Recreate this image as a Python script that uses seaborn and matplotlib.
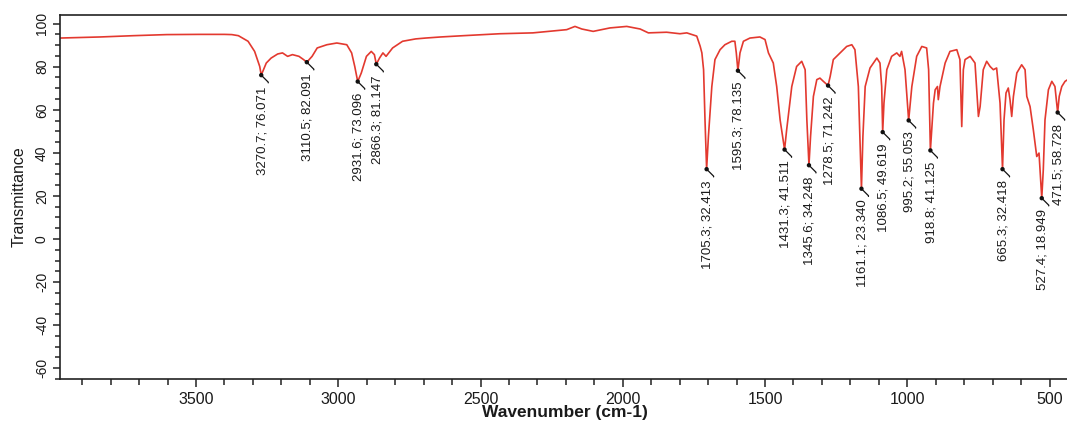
import matplotlib
matplotlib.use("Agg")
import matplotlib.pyplot as plt
from matplotlib.ticker import MultipleLocator
import seaborn as sns
import pandas as pd

# FT-IR spectrum: wavenumber (cm-1) and % transmittance
wavenumber = [
    3978, 3900, 3837, 3720, 3603, 3489, 3400, 3374, 3351, 3317, 3294, 3276,
    3270.7, 3253, 3236, 3213, 3196, 3178, 3161, 3138, 3122, 3110.5, 3092,
    3074, 3040, 3005, 2970, 2953, 2942, 2931.6, 2919, 2901, 2884, 2873,
    2866.3, 2855, 2843, 2832, 2809, 2774, 2728, 2693, 2640, 2560, 2432,
    2316, 2197, 2168, 2144, 2104, 2045, 1986, 1939, 1910, 1846, 1799, 1775,
    1740, 1728, 1722, 1716, 1711, 1705.3, 1699, 1687, 1676, 1658, 1641,
    1617, 1606, 1601, 1595.3, 1588, 1576, 1553, 1518, 1500, 1488, 1471,
    1459, 1447, 1431.3, 1424, 1406, 1389, 1371, 1359, 1353, 1345.6, 1340,
    1330, 1318, 1307, 1295, 1278.5, 1271, 1260, 1236, 1213, 1195, 1184,
    1172, 1161.1, 1156, 1148, 1131, 1107, 1096, 1090, 1086.5, 1082, 1072,
    1055, 1037, 1026, 1020, 1008, 995.2, 984, 967, 949, 932, 925, 918.8,
    908, 902, 894, 891, 885, 867, 850, 826, 815, 808.6, 803, 797, 779, 762,
    750, 744, 733, 721, 709, 697.5, 686, 674, 665.3, 660, 653, 645, 639,
    633, 627, 615, 598, 586, 580, 568.5, 557, 545, 537, 527.4, 522, 516,
    504, 492, 481, 471.5, 466, 457, 445.5, 436,
]
transmittance = [
    93.3, 93.6, 93.8, 94.4, 94.9, 95.0, 95.0, 94.9, 94.4, 91.8, 87.1, 80.1,
    76.071, 81.7, 84.0, 85.9, 86.4, 84.8, 85.6, 84.8, 83.3, 82.091, 84.8,
    88.7, 90.2, 91.0, 90.2, 86.4, 80.1, 73.096, 77.1, 84.8, 87.1, 85.6,
    81.147, 84.0, 86.4, 84.8, 88.7, 91.8, 92.9, 93.3, 93.8, 94.4, 95.3,
    95.7, 97.2, 98.7, 97.5, 96.4, 98.0, 98.7, 97.5, 95.7, 96.0, 95.3, 95.7,
    94.2, 89.5, 86.4, 78.6, 55.3, 32.413, 47.6, 70.8, 83.3, 87.9, 90.2,
    91.8, 91.8, 86.4, 78.135, 86.4, 91.8, 93.3, 93.8, 92.6, 86.4, 81.7,
    70.8, 55.3, 41.511, 50.7, 70.8, 80.1, 82.5, 78.6, 55.3, 34.248, 47.6,
    66.2, 74.0, 74.7, 73.2, 71.242, 75.5, 83.3, 86.4, 89.4, 90.2, 87.9,
    70.8, 23.340, 47.6, 70.8, 79.4, 84.0, 81.7, 70.8, 49.619, 63.1, 78.6,
    84.8, 86.4, 84.8, 87.1, 78.6, 55.053, 70.8, 84.8, 89.4, 88.7, 78.6, 41.125,
    63.1, 69.3, 70.8, 64.7, 70.8, 81.7, 87.1, 87.9, 83.3, 52.2, 78.6, 83.3,
    84.8, 81.7, 56.9, 61.5, 78.6, 82.5, 80.1, 78.6, 79.4, 63.1, 32.418, 55.3,
    67.8, 70.1, 64.7, 56.9, 66.2, 77.1, 80.9, 78.6, 66.2, 61.5, 50.7, 38.3,
    39.9, 18.949, 32.1, 55.3, 69.3, 73.2, 70.8, 58.728, 66.2, 70.8, 73.2, 74.0,
]

# Picked peaks
peak_wn = [3270.7, 3110.5, 2931.6, 2866.3, 1705.3, 1595.3, 1431.3, 1345.6,
           1278.5, 1161.1, 1086.5, 995.2, 918.8, 665.3, 527.4, 471.5]
peak_t = [76.071, 82.091, 73.096, 81.147, 32.413, 78.135, 41.511, 34.248,
          71.242, 23.340, 49.619, 55.053, 41.125, 32.418, 18.949, 58.728]

x_ticks = [3500, 3000, 2500, 2000, 1500, 1000, 500]
y_ticks = [-60, -40, -20, 0, 20, 40, 60, 80, 100]

sns.set_theme(style="ticks")
plt.rcParams["font.family"] = ["Liberation Sans", "DejaVu Sans"]
plt.rcParams["axes.unicode_minus"] = False

spectrum = pd.DataFrame({"wavenumber": wavenumber, "transmittance": transmittance})
peaks = pd.DataFrame({"wavenumber": peak_wn, "transmittance": peak_t})

fig = plt.figure(figsize=(10.67, 4.26), dpi=100)
ax = fig.add_axes([60 / 1067, 1 - 379 / 426, 1018 / 1067, 364 / 426])

sns.lineplot(data=spectrum, x="wavenumber", y="transmittance", ax=ax,
             color="#e3392f", linewidth=1.2, estimator=None, sort=False)
sns.scatterplot(data=peaks, x="wavenumber", y="transmittance", ax=ax,
                color="#111111", s=10, edgecolor="none", zorder=5)

for wn, t in zip(peak_wn, peak_t):
    ax.annotate(f"{wn:.1f}; {t:.3f}", xy=(wn, t), xytext=(1, -11),
                textcoords="offset pixels", rotation=90, ha="center", va="top",
                fontsize=9.5, color="#1a1a1a",
                arrowprops=dict(arrowstyle="-", color="#111111", lw=0.9,
                                shrinkA=0, shrinkB=0, relpos=(1.0, 0.95),
                                connectionstyle="angle,angleA=90,angleB=135,rad=0"))

ax.set_xlim(3978, 400)
ax.set_ylim(-65, 104)
ax.set_xticks(x_ticks)
ax.set_yticks(y_ticks)
ax.xaxis.set_minor_locator(MultipleLocator(100))
ax.yaxis.set_minor_locator(MultipleLocator(5))
ax.tick_params(axis="x", which="major", length=6, width=1.1, labelsize=11.5,
               pad=3, color="#222222", labelcolor="#1a1a1a")
ax.tick_params(axis="x", which="minor", length=4.5, width=1.1, color="#222222")
ax.tick_params(axis="y", which="major", length=5, width=1.1, labelsize=10,
               pad=3, color="#222222", labelcolor="#1a1a1a")
ax.tick_params(axis="y", which="minor", length=3.5, width=1.1, color="#222222")
for lab in ax.get_yticklabels():
    lab.set_rotation(90)
    lab.set_va("center")
    lab.set_ha("right")

for side, sp in ax.spines.items():
    sp.set_color("#222222")
    sp.set_linewidth(1.2)
ax.spines["right"].set_visible(False)

ax.set_xlabel("Wavenumber (cm-1)", fontsize=12.5, fontweight="bold", color="#1a1a1a")
ax.set_ylabel("Transmittance", fontsize=11.5, color="#1a1a1a")
ax.xaxis.set_label_coords((565 - 60) / 1018, -(405 - 379) / 364)
ax.yaxis.set_label_coords(-(60 - 27) / 1018, 0.5)

fig.savefig("out.png", dpi=100)
